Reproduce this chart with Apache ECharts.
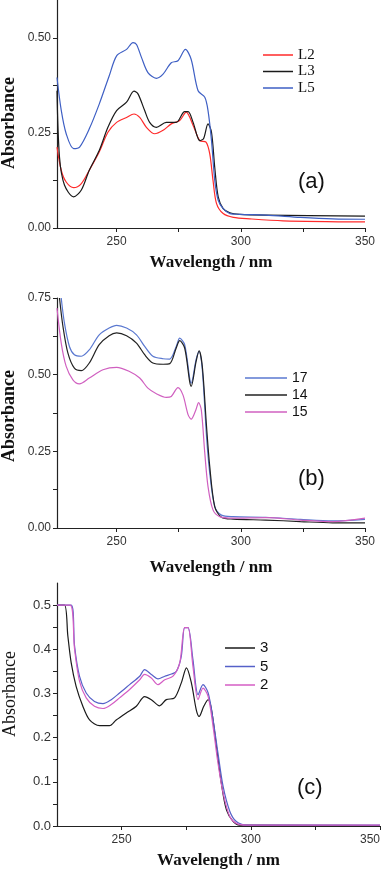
<!DOCTYPE html>
<html>
<head>
<meta charset="utf-8">
<title>UV-Vis absorbance spectra</title>
<script src="https://cdn.jsdelivr.net/npm/echarts@6/dist/echarts.min.js"></script>
<style>
  html, body { margin: 0; padding: 0; background: #fff; }
  #chart { width: 390px; height: 873px; }
</style>
</head>
<body>
<div id="chart"></div>
<script>
// panel (a) — [wavelength nm, absorbance]
const L2 = [[226,0.213],[227.7,0.152],[229.7,0.121],[232.7,0.106],[235.8,0.117],[239,0.152],[243,0.2],[246.5,0.252],[250,0.278],[254,0.291],[257,0.3],[259.3,0.291],[262,0.265],[265.3,0.248],[268.7,0.257],[272,0.274],[275.4,0.283],[278,0.305],[280.8,0.27],[283.5,0.23],[286,0.226],[287.5,0.195],[288.8,0.126],[290.2,0.065],[292.9,0.038],[297,0.028],[303.6,0.024],[317,0.019],[350,0.016]];
const L3 = [[226,0.361],[227,0.187],[229,0.113],[232.7,0.082],[235.8,0.1],[239,0.152],[243,0.204],[246.5,0.265],[250,0.309],[254,0.331],[257,0.36],[258.6,0.353],[261.3,0.309],[263.3,0.278],[266,0.265],[270,0.278],[274,0.278],[277.4,0.306],[278.8,0.306],[280.8,0.278],[283.5,0.23],[285,0.235],[286.8,0.274],[288.2,0.252],[289.5,0.16],[290.9,0.082],[292.9,0.051],[295.6,0.04],[299.6,0.036],[310,0.034],[350,0.031]];
const L5 = [[226,0.396],[227.7,0.31],[229.7,0.248],[232.7,0.209],[235.1,0.213],[239,0.261],[243,0.326],[247,0.4],[250,0.453],[254,0.47],[256.6,0.488],[258,0.483],[260,0.449],[262.6,0.409],[266,0.394],[268.7,0.405],[272,0.435],[274.7,0.44],[277.7,0.47],[280,0.444],[282.8,0.361],[285.5,0.344],[286.8,0.309],[288.2,0.23],[289.5,0.126],[290.9,0.073],[292.9,0.051],[295.6,0.038],[299.6,0.036],[310,0.034],[324,0.028],[337,0.024],[350,0.023]];

// panel (b)
const S17 = [[227.7,0.75],[229,0.668],[231,0.592],[233,0.565],[235.8,0.56],[239,0.581],[243,0.63],[247,0.652],[250,0.661],[254,0.652],[258,0.63],[261.3,0.592],[264.6,0.56],[268.7,0.552],[271.4,0.551],[274,0.592],[275.4,0.619],[277.4,0.598],[279.4,0.489],[280,0.472],[282,0.549],[283.2,0.576],[284.5,0.516],[286.2,0.298],[287.5,0.179],[289.5,0.07],[292.2,0.042],[296.9,0.037],[310,0.035],[324,0.028],[337,0.023],[350,0.028]];
const S14 = [[227,0.75],[228.4,0.657],[230.4,0.57],[233,0.521],[235.8,0.513],[239,0.538],[243,0.598],[247,0.627],[250,0.636],[254,0.627],[258,0.603],[261.3,0.565],[264.6,0.538],[268.7,0.534],[271.4,0.536],[274,0.587],[275.4,0.611],[277.4,0.587],[279.4,0.478],[280,0.462],[282,0.543],[283.2,0.578],[284.5,0.527],[286.2,0.331],[287.5,0.2],[289.5,0.07],[292.2,0.035],[296.9,0.029],[310,0.026],[324,0.021],[337,0.017],[350,0.017]];
const S15 = [[226,0.717],[227.7,0.603],[229.7,0.527],[232.4,0.483],[235,0.47],[239,0.489],[244.5,0.516],[250,0.524],[255,0.511],[259.3,0.489],[262.6,0.456],[266,0.438],[270,0.426],[272,0.429],[274.7,0.458],[276.7,0.434],[278.8,0.369],[280,0.355],[281.9,0.385],[283,0.409],[284.1,0.385],[285.5,0.244],[286.8,0.135],[288.8,0.059],[291.5,0.037],[296.9,0.032],[310,0.034],[324,0.026],[337,0.021],[350,0.032]];

// panel (c)
const C3 = [[225,0.5],[227.9,0.5],[229.2,0.43],[230.5,0.369],[232.4,0.316],[235,0.271],[237.6,0.24],[241.5,0.227],[245.3,0.227],[247.9,0.24],[251.8,0.256],[255.7,0.271],[258.9,0.293],[261.5,0.286],[264.7,0.272],[267.3,0.286],[270.5,0.29],[273.1,0.324],[275.1,0.358],[277,0.324],[278.9,0.263],[280,0.248],[281.8,0.271],[283.5,0.286],[284.8,0.263],[286.7,0.18],[288.6,0.097],[290.6,0.036],[293.2,0.01],[295.7,0.002],[350,0.001]];
const C5 = [[225,0.5],[230.5,0.5],[231.8,0.407],[233.7,0.339],[236.3,0.301],[239.5,0.282],[242.8,0.277],[246,0.286],[249.2,0.301],[253.1,0.32],[257,0.339],[258.9,0.354],[261.5,0.343],[264.1,0.333],[266.7,0.339],[269.3,0.344],[271.2,0.35],[273.1,0.384],[274.4,0.449],[275.7,0.449],[277.6,0.377],[279.6,0.297],[281.5,0.32],[283.5,0.301],[285.4,0.241],[287.3,0.165],[289.3,0.089],[291.9,0.033],[294.4,0.01],[298.3,0.002],[350,0.002]];
const C2 = [[225,0.5],[230.1,0.5],[231.8,0.4],[233.7,0.328],[236.3,0.29],[239.5,0.271],[242.8,0.266],[246,0.275],[249.2,0.29],[253.1,0.309],[257,0.331],[258.9,0.343],[261.5,0.335],[264.1,0.32],[266.7,0.331],[269.9,0.339],[272.5,0.369],[274.4,0.449],[275.7,0.449],[277.6,0.362],[279.6,0.286],[281.5,0.312],[283.5,0.293],[285.4,0.225],[287.3,0.142],[289.3,0.074],[291.9,0.021],[294.4,0.006],[298.3,0.002],[350,0.002]];

const xTicks = [250, 300, 350];
const xMinor = [250, 275, 300, 325, 350];
const yLabelsAB = [[0, 0.25, 0.5], [0, 0.25, 0.5, 0.75]];
const yTicksAB = [[0, 0.125, 0.25, 0.375, 0.5], [0, 0.125, 0.25, 0.375, 0.5, 0.625, 0.75]];
const yLabelsC = [0, 0.1, 0.2, 0.3, 0.4, 0.5];
const yTicksC = [0, 0.05, 0.1, 0.15, 0.2, 0.25, 0.3, 0.35, 0.4, 0.45, 0.5];

const chart = echarts.init(document.getElementById('chart'));

const SERIF = '"Liberation Serif", "Times New Roman", serif';
const SANS = '"Liberation Sans", Arial, sans-serif';
const axisColor = '#222';

function xAxis(idx, min, gap) {
  return {
    type: 'value', gridIndex: idx, min: min, max: 350,
    name: 'Wavelength / nm', nameLocation: 'middle', nameGap: gap,
    nameTextStyle: { fontFamily: SERIF, fontWeight: 'bold', fontSize: 17, color: '#111' },
    axisLine: { show: true, onZero: false, lineStyle: { color: axisColor, width: 1.2 } },
    axisTick: { show: true, customValues: xMinor, length: 4, lineStyle: { color: axisColor } },
    axisLabel: { customValues: xTicks, margin: 8, fontFamily: SANS, fontSize: 12, color: '#333',
      alignMaxLabel: idx === 2 ? 'right' : null },
    splitLine: { show: false }
  };
}
function yAxis(idx, max, labels, ticks, digits, fs) {
  return {
    type: 'value', gridIndex: idx, min: 0, max: max,
    axisLine: { show: true, onZero: false, lineStyle: { color: axisColor, width: 1.2 } },
    axisTick: { show: true, customValues: ticks, length: 4, lineStyle: { color: axisColor } },
    axisLabel: { customValues: labels, margin: 6, fontFamily: SANS, fontSize: fs, color: '#333',
      formatter: v => v.toFixed(digits) },
    splitLine: { show: false }
  };
}
function line(name, data, color, idx) {
  return {
    name: name, type: 'line', data: data, xAxisIndex: idx, yAxisIndex: idx,
    symbol: 'none', smooth: 0.3,
    lineStyle: { color: color, width: 1.2 }, itemStyle: { color: color }
  };
}
function legend(names, left, top, width, font, fs, gap) {
  return {
    data: names, orient: 'vertical', left: left, top: top, icon: 'rect',
    itemWidth: width, itemHeight: 1.5, itemGap: gap, selectedMode: false,
    textStyle: { fontFamily: font, fontSize: fs, color: '#111', lineHeight: 15 }
  };
}
function yName(x, y, bold, fs) {
  return {
    type: 'text', x: x, y: y, rotation: Math.PI / 2,
    style: { text: 'Absorbance', font: (bold ? 'bold ' : '') + fs + 'px ' + SERIF, fill: '#111',
      textAlign: 'center', textVerticalAlign: 'middle' }
  };
}

const option = {
  animation: false,
  grid: [
    { left: 57, right: 25, top: 0, height: 228 },
    { left: 57, right: 25, top: 298, height: 230 },
    { left: 57, right: 10, top: 583, height: 243 }
  ],
  xAxis: [xAxis(0, 226, 26), xAxis(1, 226, 31), xAxis(2, 225, 26)],
  yAxis: [
    yAxis(0, 0.6, yLabelsAB[0], yTicksAB[0], 2, 12),
    yAxis(1, 0.75, yLabelsAB[1], yTicksAB[1], 2, 12),
    yAxis(2, 0.55, yLabelsC, yTicksC, 1, 13)
  ],
  legend: [
    legend(['L2', 'L3', 'L5'], 258, 42.5, 30, SERIF, 15, 1.5),
    legend(['17', '14', '15'], 240, 365.5, 42, SANS, 14, 2),
    legend(['3', '5', '2'], 220, 635.5, 30, SANS, 15, 3.5)
  ],
  series: [
    line('L2', L2, '#ff2a2a', 0),
    line('L3', L3, '#1a1a1a', 0),
    line('L5', L5, '#3e5fc4', 0),
    line('17', S17, '#5a78d0', 1),
    line('14', S14, '#222222', 1),
    line('15', S15, '#d060c0', 1),
    line('3', C3, '#1a1a1a', 2),
    line('5', C5, '#5560c8', 2),
    line('2', C2, '#d45ec4', 2)
  ],
  graphic: [
    yName(9, 123, true, 18),
    yName(9, 416, true, 18),
    yName(10, 694, false, 18),
    { type: 'text', left: 298, top: 171, style: { text: '(a)', font: '22px ' + SANS, fill: '#111' } },
    { type: 'text', left: 298, top: 468, style: { text: '(b)', font: '22px ' + SANS, fill: '#111' } },
    { type: 'text', left: 297, top: 777, style: { text: '(c)', font: '22px ' + SANS, fill: '#111' } }
  ]
};

chart.setOption(option);
window.addEventListener('resize', () => chart.resize());
</script>
</body>
</html>
